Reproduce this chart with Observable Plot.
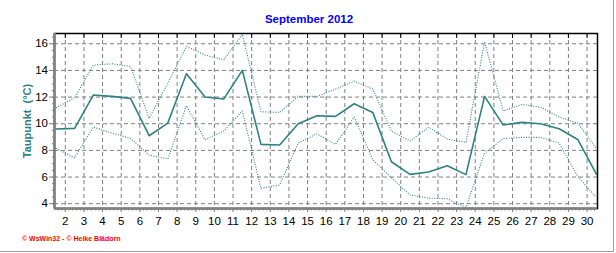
<!DOCTYPE html>
<html>
<head>
<meta charset="utf-8">
<script src="https://cdn.jsdelivr.net/npm/d3@7"></script>
<script src="https://cdn.jsdelivr.net/npm/@observablehq/plot@0.6"></script>
<style>
  html, body { margin: 0; padding: 0; background: #fff; }
  #wrap { position: relative; width: 616px; height: 253px; overflow: hidden; font-family: Arial, "Liberation Sans", sans-serif; }
  #title { height: 26px; box-sizing: border-box; padding-top: 12px; line-height: 14px; text-align: center; font-size: 11.5px; font-weight: bold; color: #0000ff; padding-left: 2px; }
  #chart { height: 204px; }
  #chart svg { display: block; }
  #caption { height: 23px; box-sizing: border-box; padding-top: 5px; padding-left: 22px; line-height: 8px; font-size: 7px; font-weight: bold; color: #ff0000; }
  #edge { position: absolute; left: 0; top: 0; width: 613px; height: 251px; border-right: 1px solid #a0a0a0; border-bottom: 1px solid #a0a0a0; pointer-events: none; }
</style>
</head>
<body>
<div id="wrap">
  <div id="title"></div>
  <div id="chart"></div>
  <div id="caption"></div>
  <div id="edge"></div>
</div>
<script>
// ---- data (dew point per day, September 2012) ----
const title = "September 2012";
const yLabel = "Taupunkt  (°C)";
const caption = "© WsWin32 - © Heike Blädorn";

const days = [1, 2, 3, 4, 5, 6, 7, 8, 9, 10, 11, 12, 13, 14, 15, 16, 17, 18, 19, 20, 21, 22, 23, 24, 25, 26, 27, 28, 29, 30];
const tdMax  = [11.2, 11.95, 14.4, 14.5, 14.3, 10.4, 13.05, 15.8, 15.15, 14.8, 16.7, 10.9, 10.85, 12.05, 12.05, 12.6, 13.2, 12.6, 9.45, 8.7, 9.75, 8.85, 8.6, 16.15, 10.95, 11.45, 11.25, 10.5, 10.05, 8.15];
const tdMean = [9.6, 9.65, 12.15, 12.05, 11.9, 9.1, 10.05, 13.75, 12.0, 11.85, 14.0, 8.45, 8.4, 10.0, 10.6, 10.55, 11.5, 10.85, 7.15, 6.2, 6.38, 6.85, 6.18, 12.05, 9.9, 10.1, 10.0, 9.62, 8.82, 6.22];
const tdMin  = [8.15, 7.45, 9.75, 9.3, 8.9, 7.65, 7.35, 11.35, 8.8, 9.45, 10.95, 5.15, 5.4, 8.55, 9.25, 8.45, 10.5, 7.3, 5.95, 4.65, 4.42, 4.37, 3.72, 7.8, 8.88, 8.98, 8.98, 8.55, 6.05, 4.47];

const xTicks = [2, 3, 4, 5, 6, 7, 8, 9, 10, 11, 12, 13, 14, 15, 16, 17, 18, 19, 20, 21, 22, 23, 24, 25, 26, 27, 28, 29, 30];
const yTicks = [4, 6, 8, 10, 12, 14, 16];
const xDomain = [1.42, 30.56];
const yDomain = [3.64, 16.77];

// ---- build ----
document.getElementById("title").textContent = title;
document.getElementById("caption").textContent = caption;

const rows = days.map((d, i) => ({day: d + 0.5, max: tdMax[i], mean: tdMean[i], min: tdMin[i]}));
const minorX = d3.range(1.6, 30.55, 0.2).map(v => Math.round(v * 10) / 10);
const minorY = d3.range(4, 16.6, 0.5);

const teal = "#2e8282";
const gridColor = "#808080";

const chart = Plot.plot({
  width: 616,
  height: 204,
  marginTop: 7,
  marginBottom: 22,
  marginLeft: 54,
  marginRight: 19,
  style: {fontFamily: "Arial, 'Liberation Sans', sans-serif", fontSize: "11.5px", color: "#000", background: "transparent", overflow: "visible"},
  x: {domain: xDomain},
  y: {domain: yDomain},
  marks: [
    Plot.gridX(xTicks, {stroke: gridColor, strokeOpacity: 1, strokeDasharray: "4,3"}),
    Plot.gridY(yTicks, {stroke: gridColor, strokeOpacity: 1, strokeDasharray: "4,3"}),
    Plot.line(rows, {x: "day", y: "max", stroke: teal, strokeWidth: 1.1, strokeDasharray: "1,1.5", strokeLinecap: "butt"}),
    Plot.line(rows, {x: "day", y: "min", stroke: teal, strokeWidth: 1.1, strokeDasharray: "1,1.5", strokeLinecap: "butt"}),
    Plot.line(rows, {x: "day", y: "mean", stroke: teal, strokeWidth: 1.6}),
    Plot.frame({stroke: "#000", strokeWidth: 1.5}),
    Plot.ruleX([xDomain[0]], {stroke: "#808080", strokeWidth: 2.5}),
    Plot.ruleY([yDomain[0]], {stroke: "#808080", strokeWidth: 2.5}),
    Plot.axisX({ticks: xTicks, tickSize: 4, tickPadding: 4, label: null, stroke: "#808080"}),
    Plot.axisX({ticks: minorX, tickSize: 2.5, tickFormat: () => "", label: null, stroke: "#808080"}),
    Plot.axisX({anchor: "top", ticks: xTicks, tickSize: -4, tickFormat: () => "", label: null, stroke: "#000"}),
    Plot.axisY({ticks: yTicks, tickSize: 5, tickPadding: 1.5, label: null, stroke: "#808080"}),
    Plot.axisY({ticks: minorY, tickSize: 2, tickFormat: () => "", label: null, stroke: "#808080"}),
    Plot.text([yLabel], {frameAnchor: "left", textAnchor: "middle", dx: -27, rotate: -90, fill: teal, fontWeight: "bold", fontSize: 11})
  ]
});
document.getElementById("chart").appendChild(chart);
</script>
</body>
</html>
